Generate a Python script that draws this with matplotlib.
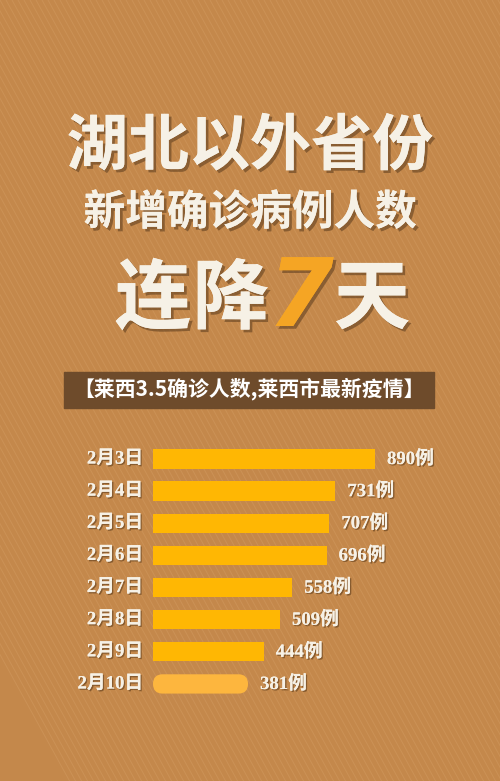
"""
湖北以外省份新增确诊病例人数 连降7天 — 横向条形图
"""

import matplotlib.pyplot as plt
import matplotlib.patheffects as pe
from matplotlib.patches import FancyBboxPatch, Rectangle
from matplotlib.lines import Line2D

plt.rcParams["font.family"] = ["Noto Sans CJK SC", "DejaVu Sans"]

dates = ["2月3日", "2月4日", "2月5日", "2月6日", "2月7日", "2月8日", "2月9日", "2月10日"]
cases = [890, 731, 707, 696, 558, 509, 444, 381]
value_labels = [f"{v}例" for v in cases]

BG = "#c4884b"
BAR = "#ffb703"
BAR_LAST = "#fdb63e"
TEXT = "#f6f1e6"
W, H = 500, 781


def main():
    fig = plt.figure(figsize=(W / 100, H / 100), dpi=100, facecolor=BG)

    # 背景斜纹
    for i in range(-60, 110):
        x0 = i * 6 / W
        fig.add_artist(Line2D([x0, x0 + 0.55 * H / W], [1, 0],
                              transform=fig.transFigure, color="#e8b883",
                              lw=0.7, alpha=0.2, zorder=0))

    shadow = [pe.withSimplePatchShadow(offset=(2, -2), shadow_rgbFace="#5a3a1c", alpha=0.55), pe.Normal()]
    title_kw = dict(ha="center", va="center", color=TEXT, fontweight="heavy", path_effects=shadow)
    fig.text(250 / W, 1 - 147 / H, "湖北以外省份", fontsize=44, **title_kw)
    fig.text(250 / W, 1 - 213 / H, "新增确诊病例人数", fontsize=30, **title_kw)
    fig.text(153 / W, 1 - 300 / H, "连", fontsize=55, **title_kw)
    fig.text(231 / W, 1 - 300 / H, "降", fontsize=55, **title_kw)
    fig.text(301 / W, 1 - 300 / H, "7", fontsize=68, style="italic", ha="center", va="center",
             color="#f5a524", fontweight="heavy", family="DejaVu Sans", path_effects=shadow)
    fig.text(372 / W, 1 - 300 / H, "天", fontsize=55, **title_kw)

    # 标题横幅
    fig.add_artist(Rectangle((64 / W, 1 - 408 / H), 370 / W, 36 / H,
                             transform=fig.transFigure, color="#6e4b2b", zorder=1))
    fig.text(249 / W, 1 - 389 / H, "【莱西3.5确诊人数,莱西市最新疫情】", fontsize=15,
             color="white", fontweight="bold", ha="center", va="center", zorder=2)

    # 条形图
    ax = fig.add_axes([153 / W, 1 - 700 / H, 322 / W, 260 / H])
    ax.set_facecolor("none")
    ax.set_xlim(0, 890 * 322 / 222)
    ax.set_ylim(7.5, -0.59)
    ypos = list(range(len(dates)))
    bar_h = 0.6
    ax.barh(ypos[:-1], cases[:-1], height=bar_h, color=BAR)
    ax.add_patch(FancyBboxPatch((0, ypos[-1] - bar_h / 2), cases[-1], bar_h,
                                boxstyle="round,pad=0,rounding_size=38",
                                mutation_aspect=0.0079, color=BAR_LAST, lw=0))

    label_fx = [pe.withSimplePatchShadow(offset=(1, -1), shadow_rgbFace="#4a2e12", alpha=0.5), pe.Normal()]
    fam = ["Liberation Serif", "Noto Sans CJK SC"]
    px = 890 / 222  # 每像素对应的数据单位
    for y, d, v, lab in zip(ypos, dates, cases, value_labels):
        ax.text(-10 * px, y, d, ha="right", va="center", fontsize=13.5, color=TEXT,
                fontweight="bold", family=fam, path_effects=label_fx)
        ax.text(v + 12 * px, y, lab, ha="left", va="center", fontsize=13.5, color=TEXT,
                fontweight="bold", family=fam, path_effects=label_fx)

    ax.set_xticks([])
    ax.set_yticks([])
    for s in ax.spines.values():
        s.set_visible(False)

    fig.savefig("out.png", dpi=100, facecolor=BG)
    plt.close(fig)


if __name__ == "__main__":
    main()
